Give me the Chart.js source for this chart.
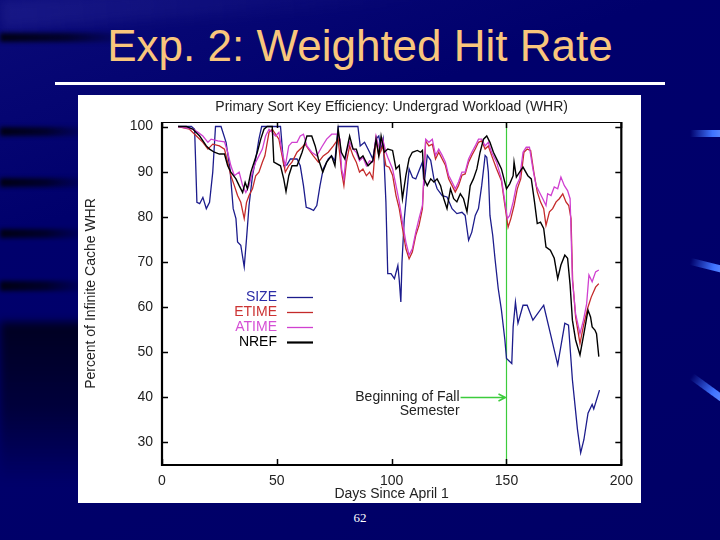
<!DOCTYPE html>
<html>
<head>
<meta charset="utf-8">
<script src="https://cdn.jsdelivr.net/npm/chart.js@4/dist/chart.umd.min.js"></script>
<style>
  html, body { margin:0; padding:0; }
  body { width:720px; height:540px; position:relative; overflow:hidden;
    background: linear-gradient(160deg, #0a0a78 0%, #00006c 30%, #00006a 60%, #000066 100%);
    font-family: "Liberation Sans", Arial, sans-serif; }
  .streak { position:absolute; left:0; filter: blur(2px);
    background: linear-gradient(to right, rgba(0,0,10,0.9), rgba(0,0,20,0.75) 50%, rgba(0,0,40,0)); }
  .blue { position:absolute; filter: blur(0.6px);
    background: linear-gradient(to right, rgba(60,110,255,0), #3f73ff 70%, #5b88ff); }
  #title { position:absolute; left:0; width:720px; top:20px; text-align:center;
    color:#f9c67c; font-size:44px; line-height:52px; }
  #rule { position:absolute; left:55px; width:610px; top:82px; height:3px; background:#fff; }
  #panel { position:absolute; left:78px; top:95px; width:563px; height:408px; background:#fff; }
  #page { position:absolute; left:0; width:720px; top:510px; text-align:center; color:#fff;
    font-family:"Liberation Serif","DejaVu Serif",serif; font-size:13px; }
</style>
</head>
<body>
<div style="position:absolute;left:0;top:0;width:420px;height:30px;filter:blur(6px);background:linear-gradient(to right, rgba(40,40,150,0.45), rgba(40,40,150,0));transform:rotate(-4deg);transform-origin:left top;"></div>
<div class="streak" style="top:33px;width:130px;height:9px;"></div>
<div class="streak" style="top:127px;width:90px;height:9px;"></div>
<div class="streak" style="top:178px;width:90px;height:9px;"></div>
<div class="streak" style="top:229px;width:90px;height:9px;"></div>
<div class="streak" style="top:281px;width:90px;height:10px;"></div>
<div style="position:absolute;left:0;top:322px;width:95px;height:160px;filter:blur(4px);background:linear-gradient(to bottom, rgba(0,0,20,0.85), rgba(0,0,30,0.6) 55%, rgba(0,0,60,0));"></div>
<div class="blue" style="left:690px;top:130px;width:32px;height:7px;"></div>
<div class="blue" style="left:690px;top:262px;width:34px;height:7px;transform:rotate(14deg);"></div>
<div class="blue" style="left:688px;top:384px;width:38px;height:7px;transform:rotate(36deg);"></div>

<div id="title">Exp. 2: Weighted Hit Rate</div>
<div id="rule"></div>
<div id="panel"><canvas id="c" width="563" height="408"></canvas></div>
<div id="page">62</div>

<script>
// ---- data ----
const seriesNames = ["SIZE", "ETIME", "ATIME", "NREF"];
const xTicks = [0, 50, 100, 150, 200];
const yTicks = [30, 40, 50, 60, 70, 80, 90, 100];

const sizeDays = [7,12.8,14.2,15.2,16.4,17.8,19.3,20.7,22.1,23.3,25.7,27.9,29.6,31,32.2,32.9,34.3,35.8,36.8,37.9,39.4,40.8,42.2,43.4,51.6,53,54.4,55.9,58.8,60.2,61.6,62.8,64.5,66,67.4,68.8,70.2,72.4,73.8,75.3,76.7,85.3,86.3,88.2,90.4,91.8,93.2,94.4,95.4,96.3,97.5,98.3,99.7,101.2,102.7,103.3,104,104.5,105.5,106.9,107.6,109.1,110.5,111.9,113.4,114.1,115.5,117,118.4,119.8,122,124.1,126.3,128.4,130.6,132,133.5,134.9,136.4,137.8,139.2,140.7,141.4,142.1,142.8,144,145,146.4,147.8,149.3,150,152.3,152.9,153.9,155,157.2,159,161.5,166.2,169.4,172.3,175.4,177,178.7,180.9,182.3,183.7,185.5,187.3,188,190.5];
const sizeVals = [100,100,99.4,83.2,82.9,84.3,81.8,83.2,89.9,100,100,96.5,90.6,81.8,79.6,74.4,73.7,68.9,75.1,82.5,89.1,92.8,97.2,100,100,91.3,91.5,92.8,92.8,91.3,86.9,82.1,81.8,81.4,82.5,86.9,90.6,92.8,93.5,92.4,100,100,95.7,96.5,94.3,92.8,97.2,97.9,95,97.2,83.2,67.4,67.4,66.3,69.2,66,61.1,70,79.6,86.9,90.6,88.7,88.4,90.2,92.1,86.9,93.6,92.5,88.4,86.2,84.7,84.4,81.8,80.7,81,80.3,74.8,76.6,80.3,81.8,86.9,93.6,93.2,89.9,80.3,75.9,70.7,64.1,59.3,52.7,48.6,47.5,55.6,61.1,56.4,60.4,60.4,57.1,60.4,53.5,47.2,56.4,56,43.9,32.9,27.7,30.6,36.5,38.4,37.4,41.6];

const etimeDays = [7,12,15,17.8,20,22.1,25,27.2,28.6,30,31.5,32.9,34.3,35.8,36.8,37.9,39.4,40.8,42.2,43.7,44.8,46.6,48,50.9,52.3,53.7,55.2,56.6,58.8,61,62.3,63.8,65.9,68.1,70.2,72.4,74.6,76.7,78.2,79.2,80.3,81.7,83.2,84.6,86,87.5,89,90.4,91.8,93.2,94.4,96.1,97.5,98.9,100.4,101.9,103.3,104.7,106.2,107.6,109,110.5,111.9,113.4,114.1,114.8,116.2,117.7,119.1,120.5,122,123.4,124.8,126.3,127.7,129.1,130.6,132,133.5,134.9,136.4,137.8,139.2,140.7,142.1,143.5,145.7,147.8,149.3,150.7,151.9,153.3,154.7,156.2,157.6,159,160.5,161.9,163.4,164.8,166.2,167.2,168.7,170.1,171.6,173,174.5,175.9,177.1,178.1,178.8,180.1,182,183.7,185.5,186.9,188.8,190.2];
const etimeVals = [100,99.4,97.9,96.5,95,96.1,95.7,95,92.1,89.1,86.9,84.7,83.2,79.6,83.2,84.7,86.2,89.1,89.9,92.1,93.5,98.7,99.4,97.2,93.5,89.9,91.3,92.1,94.3,95.4,96.1,95,93.5,92.1,93.5,94.3,95.7,97.2,89.9,86.9,92.1,95.7,93.5,92.1,89.9,90.6,89.1,89.9,88.4,97.2,93.5,95.7,91.3,91,89.2,84.7,81.8,77.4,72.9,70.7,72.2,75.9,78.1,81.8,89.2,96.8,95.7,96.1,92.8,94.3,92.8,91.4,88.4,86.9,85.5,86.9,89.2,89.5,92.1,93.6,95,96.5,96.8,95,95.7,93.6,90.6,88,82.5,77.7,79.6,82.5,86.2,88.4,94.3,95,94.7,89.9,85.5,83.3,81.8,78.1,81.1,81.8,83.3,84,85.1,83.3,82.5,79.6,66,57.8,51.9,56.3,60,62.2,64.4,65.2];

const atimeDays = [7,13.5,15.7,17.8,20,21.4,24.3,27.2,28.6,30,31.5,33.6,35.1,36.5,37.9,39.4,40.8,42.2,43.7,45.1,46.6,48,49.4,50.9,52.3,53.7,55.2,56.6,58.8,60.2,61.6,63.1,65.2,67.4,69.5,71.7,73.9,76.1,77.5,78.2,79.2,80.3,81.7,83.2,84.6,86,87.5,89,90.4,91.8,93.2,94.7,96.1,97.5,98.3,100.4,101.9,103.3,104.7,106.2,107.6,109,110.5,111.9,113.4,114.1,114.8,116.2,117.7,119.1,120.5,122,123.4,124.8,126.3,127.7,129.1,130.6,132,133.5,134.9,136.4,137.8,139.2,140.7,142.1,143.5,145.7,147.8,149.3,150.4,151.4,152.9,154.3,155.7,157.2,158.6,160,161.5,162.9,164.3,165.8,167.2,167.9,169.4,170.8,172.3,173.7,175.2,176.6,177.7,178.7,180.1,182,183.5,184.9,185.9,187.3,188.8,190.2];
const atimeVals = [100,99.4,98.7,97.9,96.5,97.2,96.8,96.6,94.3,91.3,89.1,89.9,86.9,85.4,86.9,89.9,92.1,93.5,95,97.9,99.4,98.7,97.9,98.7,94.3,91.3,95.7,96.5,96.5,97.9,98.3,95.7,94.3,93.5,95.4,97.2,98.3,98.3,97.2,90.6,88.4,94.3,96.5,95,94.3,92.4,93.2,91.3,92.4,92.1,97.9,95,97.2,94.3,93.2,90.6,86.9,83.3,78.8,74.4,71.5,72.9,76.6,79.6,82.5,89.9,97.2,96.5,97.2,93.6,95,93.6,92.1,89.2,87.7,86.2,87.7,89.9,89.9,92.8,94.3,95.7,97.2,97.2,95.7,96.5,94.3,92.1,88.4,83.3,79.6,80.3,83.3,86.9,88.4,94.3,95.4,95.4,90.6,86.9,85.5,84,82.5,85.1,84.7,86.6,86.2,88.8,86.9,85.8,84,66,58.5,54.1,57.1,60.7,67.1,65.6,67.8,68.2];

const nrefDays = [7,10.6,13.5,16.4,19.3,20.7,22.8,25,27.2,28.6,30,32.2,33.6,35.1,36.2,37.2,38.7,40.1,41.5,43,44.4,45.8,48,48.7,51.6,53,54,55.2,56.6,58.8,61,62.3,63.1,65.2,66.7,68.1,70,71.7,73.8,75.3,76.7,78.1,79.6,81.7,83.2,84.6,86,87.5,89.7,91.8,93.2,94.4,95.4,96.8,98.3,100.4,101.9,103.3,104.7,106.2,107.6,109,111.2,112.6,113.4,114.1,115.5,117,118.4,119.8,121.3,122.7,124.1,125.6,127,128.4,129.9,131.3,132.8,134.2,135.6,137.1,138.5,140,141.4,142.8,144.3,146.4,147.8,150,151.4,152.9,153.3,154.3,155.7,157.2,159.3,160.8,162.2,163.4,164.8,166.2,167.2,169.1,170.8,172.3,173.7,175.4,176.6,177.7,178.7,180.1,182,183.7,185.5,186.6,187.3,188.5,189.2,190.2];
const nrefVals = [100,100,99.4,97.9,95.7,95,94.3,93.9,93.9,91.3,89.9,88.4,86.9,85.4,87.6,86.2,89.9,92.1,94.3,97.2,99.4,100,100,92.1,91.3,88.4,85.6,89.1,91.3,91.3,94.3,96.5,97.9,97.9,95.7,92.8,89.9,92.1,93.5,91.3,99.4,94.3,92.8,97.9,95,95,92.8,93.5,91.3,92.4,97.2,93.5,97.9,94.3,95,94.7,90.6,91.4,84,89.2,92.9,94.3,94.7,94.3,94.7,88.4,86.9,88.4,87.7,88.4,86.9,84,81.8,86.2,84,83.3,85.1,84,81.1,86.9,88.4,90.6,94.3,97.2,97.9,96.5,94.3,92.1,90.6,86.2,87.3,89.1,92.1,88.8,89.9,91,89.1,88.4,83.3,78.5,78.8,77.4,73.3,72.6,70.8,66.3,69.3,71.5,70.8,64.9,57.1,52.7,49.4,54.1,59.3,57.8,55.6,54.9,54.1,49];

const semesterDay = 150;
const arrowStartDay = 130;
const arrowLevel = 40;

// ---- chart ----
const FONT = '"Liberation Sans", Arial, Helvetica, sans-serif';
Chart.defaults.font.family = FONT;
Chart.defaults.font.size = 14;
Chart.defaults.color = '#222';

function pts(days, vals) { return days.map((d, i) => ({ x: d, y: vals[i] })); }
const colors = ['#1c1c8c', '#c42a2a', '#d040d0', '#000000'];
const legendColors = ['#2b2ba6', '#cc3333', '#d54fd5', '#000000'];
const allData = [pts(sizeDays, sizeVals), pts(etimeDays, etimeVals), pts(atimeDays, atimeVals), pts(nrefDays, nrefVals)];

const overlay = {
  id: 'overlay',
  beforeDatasetsDraw(chart) {
    const { ctx, chartArea: a, scales: { x } } = chart;
    const gx = Math.round(x.getPixelForValue(semesterDay)) + 0.5;
    ctx.save();
    ctx.strokeStyle = '#3ccc3c';
    ctx.lineWidth = 1.2;
    ctx.beginPath(); ctx.moveTo(gx, a.top); ctx.lineTo(gx, a.bottom); ctx.stroke();
    ctx.restore();
  },
  afterDatasetsDraw(chart) {
    const { ctx, chartArea: a, scales: { x, y } } = chart;
    ctx.save();
    // frame
    ctx.strokeStyle = '#000';
    ctx.lineWidth = 1;
    ctx.beginPath(); ctx.moveTo(a.left, a.top + 0.5); ctx.lineTo(a.right, a.top + 0.5); ctx.stroke();
    ctx.lineWidth = 2.2;
    ctx.beginPath();
    ctx.moveTo(a.left, a.top); ctx.lineTo(a.left, a.bottom); ctx.lineTo(a.right, a.bottom); ctx.lineTo(a.right, a.top);
    ctx.stroke();
    // inward ticks
    ctx.lineWidth = 1.5;
    yTicks.forEach(v => {
      const py = Math.round(y.getPixelForValue(v)) + 0.5;
      ctx.beginPath(); ctx.moveTo(a.left, py); ctx.lineTo(a.left + 6, py);
      ctx.moveTo(a.right, py); ctx.lineTo(a.right - 6, py); ctx.stroke();
    });
    xTicks.forEach(v => {
      const px = Math.round(x.getPixelForValue(v)) + 0.5;
      ctx.beginPath(); ctx.moveTo(px, a.bottom); ctx.lineTo(px, a.bottom - 6);
      ctx.moveTo(px, a.top); ctx.lineTo(px, a.top + 6); ctx.stroke();
    });
    // legend
    ctx.font = '14px ' + FONT;
    ctx.textAlign = 'right';
    ctx.textBaseline = 'middle';
    seriesNames.forEach((n, i) => {
      const ly = a.top + 175 + i * 15;
      ctx.fillStyle = legendColors[i];
      ctx.fillText(n, a.left + 115, ly);
      ctx.strokeStyle = colors[i];
      ctx.lineWidth = i === 3 ? 2.2 : 1.3;
      ctx.beginPath(); ctx.moveTo(a.left + 125, ly + 0.5); ctx.lineTo(a.left + 151, ly + 0.5); ctx.stroke();
    });
    // annotation
    const ax0 = x.getPixelForValue(arrowStartDay), ax1 = x.getPixelForValue(semesterDay) - 1;
    const ay = Math.round(y.getPixelForValue(arrowLevel)) + 0.5;
    ctx.fillStyle = '#222';
    ctx.fillText('Beginning of Fall', ax0 - 1, ay);
    ctx.fillText('Semester', ax0 - 1, ay + 14);
    ctx.strokeStyle = '#3ccc3c';
    ctx.lineWidth = 1.5;
    ctx.beginPath(); ctx.moveTo(ax0, ay); ctx.lineTo(ax1, ay);
    ctx.moveTo(ax1 - 7, ay - 3.5); ctx.lineTo(ax1, ay); ctx.lineTo(ax1 - 7, ay + 3.5);
    ctx.stroke();
    // titles
    ctx.fillStyle = '#222';
    ctx.textAlign = 'center';
    const cx = (a.left + a.right) / 2;
    ctx.fillText('Primary Sort Key Efficiency: Undergrad Workload (WHR)', cx, 12);
    ctx.fillText('Days Since April 1', cx, 399);
    ctx.translate(13, (a.top + a.bottom) / 2);
    ctx.rotate(-Math.PI / 2);
    ctx.fillText('Percent of Infinite Cache WHR', 0, 0);
    ctx.restore();
  }
};

new Chart(document.getElementById('c'), {
  type: 'line',
  data: {
    datasets: seriesNames.map((n, i) => ({
      label: n,
      data: allData[i],
      borderColor: colors[i],
      borderWidth: i === 3 ? 1.4 : 1.3,
      pointRadius: 0,
      tension: 0,
      fill: false,
      order: 4 - i
    }))
  },
  options: {
    responsive: false,
    animation: false,
    layout: { padding: { top: 27, right: 14, left: 0, bottom: 0 } },
    plugins: { legend: { display: false }, tooltip: { enabled: false }, title: { display: false } },
    scales: {
      x: {
        type: 'linear', min: 0, max: 200,
        afterBuildTicks: s => { s.ticks = xTicks.map(v => ({ value: v })); },
        afterFit: s => { s.height = 38; },
        grid: { display: false, drawTicks: false },
        border: { display: false },
        ticks: { padding: 8, color: '#222', font: { size: 14 } }
      },
      y: {
        type: 'linear', min: 25, max: 101,
        afterBuildTicks: s => { s.ticks = yTicks.map(v => ({ value: v })); },
        afterFit: s => { s.width = 84; },
        grid: { display: false, drawTicks: false },
        border: { display: false },
        ticks: { padding: 9, color: '#222', font: { size: 14 } }
      }
    }
  },
  plugins: [overlay]
});
</script>
</body>
</html>
